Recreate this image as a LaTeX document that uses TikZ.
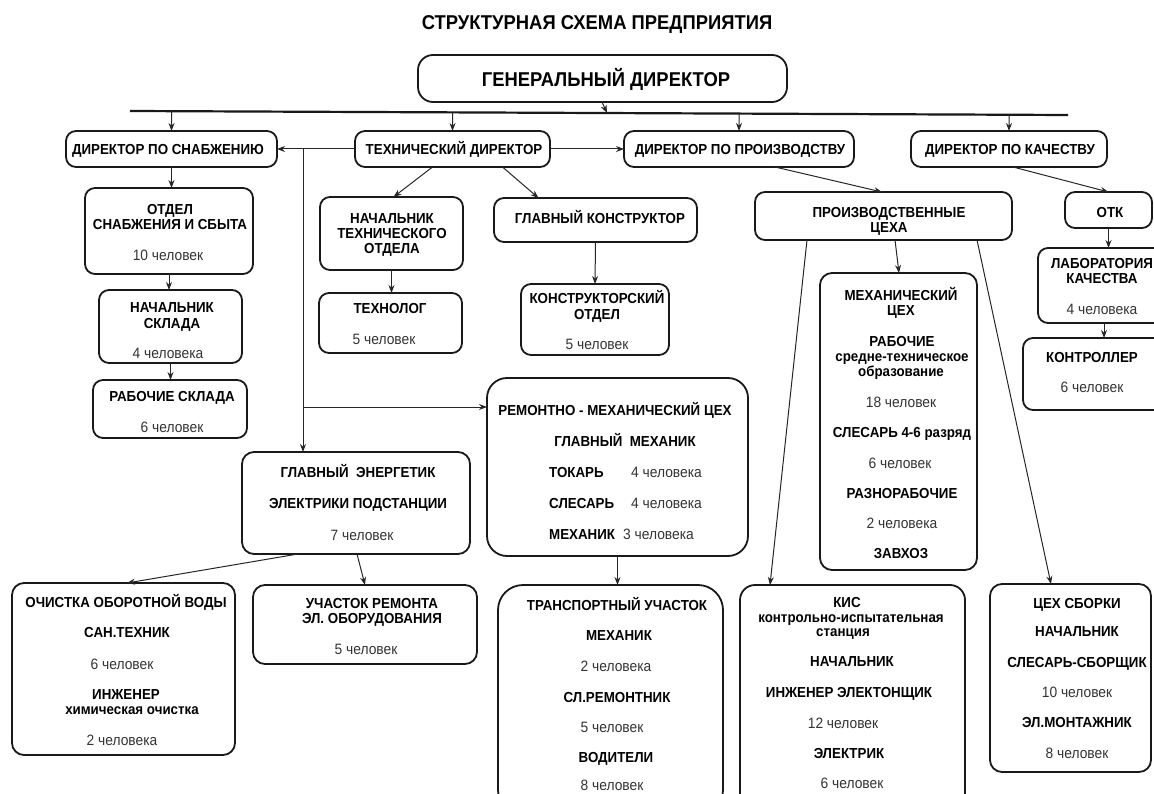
\documentclass[tikz,border=0pt]{standalone}
\usepackage{fontspec}
\setmainfont{Liberation Sans}[FakeStretch=0.92]
\usetikzlibrary{arrows.meta,calc}
\tikzset{
 box/.style={draw=black!90, line width=1.8pt, rounded corners=#1, inner sep=0pt, outer sep=0pt},
 box/.default=10pt,
 bt/.style={font=\bfseries\fontsize{14.5}{15}\selectfont, text height=10.4pt, text depth=0pt, inner sep=0pt, text=black},
 rt/.style={font=\fontsize{15}{15}\selectfont, text height=10.7pt, text depth=0pt, inner sep=0pt, text=black!80},
 big/.style={font=\bfseries\fontsize{20}{22}\selectfont, text height=14.3pt, text depth=0pt, inner sep=0pt, text=black},
 arr/.style={-{Stealth[length=8pt,width=6pt]}, line width=1pt, draw=black!85},
 barline/.style={line width=2.2pt, draw=black!90},
}
\newcommand\mkbox[6][10pt]{\node[box=#1, minimum width={#5-#3}, minimum height={#6-#4}] (#2) at ({(#3+#5)/2},{(#4+#6)/2}) {};}
\begin{document}
\begin{tikzpicture}[x=1pt,y=-1pt]
\useasboundingbox (0,0) rectangle (1154,794);
\clip (0,0) rectangle (1154,794);
% title
\node[big] (title) at (597,22) {СТРУКТУРНАЯ СХЕМА ПРЕДПРИЯТИЯ};
% boxes
\mkbox[15pt]{gd}{418}{55}{787}{102}
\mkbox{snab}{66}{131}{277}{167}
\mkbox{tech}{355}{131}{550}{167}
\mkbox{prod}{624}{131}{854}{167}
\mkbox{qual}{911}{131}{1107}{167}
\mkbox{ceh}{755}{192}{1012}{240}
\mkbox{otk}{1065}{192}{1152}{228}
\mkbox{lab}{1038}{248}{1170}{323}
\mkbox{kontr}{1023}{338}{1170}{410}
\mkbox{otdel}{85}{188}{253}{274}
\mkbox{nachskl}{99}{290}{242}{363}
\mkbox{rabskl}{93}{380}{247}{438}
\mkbox{nto}{320}{197}{463}{270}
\mkbox{tehnolog}{319}{293}{462}{353}
\mkbox{gk}{494}{198}{697}{242}
\mkbox{ko}{521}{284}{669}{355}
\mkbox[20pt]{remont}{487}{378}{748}{556}
\mkbox[12pt]{energ}{242}{452}{470}{554}
\mkbox[12pt]{ochist}{12}{583}{235}{755}
\mkbox[12pt]{uchastok}{253}{585}{477}{664}
\mkbox[25pt]{transp}{498}{585}{723}{815}
\mkbox[15pt]{kis}{740}{585}{965}{815}
\mkbox[12pt]{mehceh}{820}{273}{977}{570}
\mkbox[12pt]{sborka}{990}{584}{1151}{772}
% texts
\node[big] (gd-t) at (606,79) {ГЕНЕРАЛЬНЫЙ ДИРЕКТОР};
\node[bt] (snab-t) at (168,149) {ДИРЕКТОР ПО СНАБЖЕНИЮ};
\node[bt] (tech-t) at (454,149) {ТЕХНИЧЕСКИЙ ДИРЕКТОР};
\node[bt] (prod-t) at (740,149) {ДИРЕКТОР ПО ПРОИЗВОДСТВУ};
\node[bt] (qual-t) at (1010,149) {ДИРЕКТОР ПО КАЧЕСТВУ};
\node[bt] (ceh-t1) at (889,212) {ПРОИЗВОДСТВЕННЫЕ};
\node[bt] (ceh-t2) at (889,227) {ЦЕХА};
\node[bt] (otk-t) at (1110,212) {ОТК};
\node[bt] (lab-t1) at (1102,263) {ЛАБОРАТОРИЯ};
\node[bt] (lab-t2) at (1102,278) {КАЧЕСТВА};
\node[rt] (lab-t3) at (1102,309) {4 человека};
\node[bt] (kontr-t1) at (1092,357) {КОНТРОЛЛЕР};
\node[rt] (kontr-t2) at (1092,387) {6 человек};
\node[bt] (otdel-t1) at (170,209) {ОТДЕЛ};
\node[bt] (otdel-t2) at (170,224) {СНАБЖЕНИЯ И СБЫТА};
\node[rt] (otdel-t3) at (168,255) {10 человек};
\node[bt] (nachskl-t1) at (172,307) {НАЧАЛЬНИК};
\node[bt] (nachskl-t2) at (172,323) {СКЛАДА};
\node[rt] (nachskl-t3) at (168,353) {4 человека};
\node[bt] (rabskl-t1) at (172,396) {РАБОЧИЕ СКЛАДА};
\node[rt] (rabskl-t2) at (172,427) {6 человек};
\node[bt] (nto-t1) at (392,218) {НАЧАЛЬНИК};
\node[bt] (nto-t2) at (392,233) {ТЕХНИЧЕСКОГО};
\node[bt] (nto-t3) at (392,248) {ОТДЕЛА};
\node[bt] (tehnolog-t1) at (390,308) {ТЕХНОЛОГ};
\node[rt] (tehnolog-t2) at (384,339) {5 человек};
\node[bt] (gk-t) at (600,218) {ГЛАВНЫЙ КОНСТРУКТОР};
\node[bt] (ko-t1) at (597,298) {КОНСТРУКТОРСКИЙ};
\node[bt] (ko-t2) at (597,314) {ОТДЕЛ};
\node[rt] (ko-t3) at (597,344) {5 человек};
\node[bt] (remont-t1) at (615,410) {РЕМОНТНО - МЕХАНИЧЕСКИЙ ЦЕХ};
\node[bt] (remont-t2) at (625,441) {ГЛАВНЫЙ\ \ МЕХАНИК};
\node[bt, anchor=west] (remont-t3) at (549,472) {ТОКАРЬ};
\node[rt, anchor=west] (remont-t4) at (631,472) {4 человека};
\node[bt, anchor=west] (remont-t5) at (549,503) {СЛЕСАРЬ};
\node[rt, anchor=west] (remont-t6) at (631,503) {4 человека};
\node[bt, anchor=west] (remont-t7) at (549,534) {МЕХАНИК};
\node[rt, anchor=west] (remont-t8) at (623,534) {3 человека};
\node[bt] (energ-t1) at (358,472) {ГЛАВНЫЙ\ \ ЭНЕРГЕТИК};
\node[bt] (energ-t2) at (358,503) {ЭЛЕКТРИКИ ПОДСТАНЦИИ};
\node[rt] (energ-t3) at (362,535) {7 человек};
\node[bt] (ochist-t1) at (126,602) {ОЧИСТКА ОБОРОТНОЙ ВОДЫ};
\node[bt] (ochist-t2) at (127,632) {САН.ТЕХНИК};
\node[rt] (ochist-t3) at (122,664) {6 человек};
\node[bt] (ochist-t4) at (126,694) {ИНЖЕНЕР};
\node[bt] (ochist-t5) at (132,709) {химическая очистка};
\node[rt] (ochist-t6) at (122,740) {2 человека};
\node[bt] (uch-t1) at (372,603) {УЧАСТОК РЕМОНТА};
\node[bt] (uch-t2) at (372,618) {ЭЛ. ОБОРУДОВАНИЯ};
\node[rt] (uch-t3) at (366,649) {5 человек};
\node[bt] (tr-t1) at (617,605) {ТРАНСПОРТНЫЙ УЧАСТОК};
\node[bt] (tr-t2) at (619,635) {МЕХАНИК};
\node[rt] (tr-t3) at (616,666) {2 человека};
\node[bt] (tr-t4) at (617,697) {СЛ.РЕМОНТНИК};
\node[rt] (tr-t5) at (612,727) {5 человек};
\node[bt] (tr-t6) at (616,757) {ВОДИТЕЛИ};
\node[rt] (tr-t7) at (612,785) {8 человек};
\node[bt] (kis-t1) at (847,602) {КИС};
\node[bt] (kis-t2) at (851,617) {контрольно-испытательная};
\node[bt] (kis-t3) at (843,631) {станция};
\node[bt] (kis-t4) at (852,661) {НАЧАЛЬНИК};
\node[bt] (kis-t5) at (849,692) {ИНЖЕНЕР ЭЛЕКТОНЩИК};
\node[rt] (kis-t6) at (843,723) {12 человек};
\node[bt] (kis-t7) at (849,753) {ЭЛЕКТРИК};
\node[rt] (kis-t8) at (852,783) {6 человек};
\node[bt] (meh-t1) at (901,295) {МЕХАНИЧЕСКИЙ};
\node[bt] (meh-t2) at (901,310) {ЦЕХ};
\node[bt] (meh-t3) at (902,341) {РАБОЧИЕ};
\node[bt] (meh-t4) at (902,356) {средне-техническое};
\node[bt] (meh-t5) at (901,371) {образование};
\node[rt] (meh-t6) at (901,402) {18 человек};
\node[bt] (meh-t7) at (902,432) {СЛЕСАРЬ 4-6 разряд};
\node[rt] (meh-t8) at (900,463) {6 человек};
\node[bt] (meh-t9) at (902,493) {РАЗНОРАБОЧИЕ};
\node[rt] (meh-t10) at (902,523) {2 человека};
\node[bt] (meh-t11) at (901,553) {ЗАВХОЗ};
\node[bt] (sb-t1) at (1077,603) {ЦЕХ СБОРКИ};
\node[bt] (sb-t2) at (1077,631) {НАЧАЛЬНИК};
\node[bt] (sb-t3) at (1077,662) {СЛЕСАРЬ-СБОРЩИК};
\node[rt] (sb-t4) at (1077,692) {10 человек};
\node[bt] (sb-t5) at (1077,722) {ЭЛ.МОНТАЖНИК};
\node[rt] (sb-t6) at (1077,753) {8 человек};
% bar and connectors
\coordinate (barL) at (130,111);
\coordinate (barR) at (1068,115);
\coordinate (gdbar) at (607,113);
\draw[barline] (barL) -- (barR);
\draw[arr] ([xshift=-0.5pt]gd.south) -- (gdbar);
\draw[arr] ($(barL)!(snab.north)!(barR)$) -- (snab.north);
\draw[arr] ($(barL)!(tech.north)!(barR)$) -- (tech.north);
\draw[arr] ($(barL)!(prod.north)!(barR)$) -- (prod.north);
\draw[arr] ($(barL)!(qual.north)!(barR)$) -- (qual.north);
\draw[arr] (tech.west) -- (snab.east);
\draw[arr] (tech.east) -- (prod.west);
\coordinate (j1) at (303,149);
\coordinate (j2) at (303,407);
\draw[arr] (j1) -- (j1 |- energ.north);
\draw[arr] (j2) -- (j2 -| remont.west);
\draw[arr] (snab.south) -- (snab.south |- otdel.north);
\draw[arr] (otdel.south) -- (otdel.south |- nachskl.north);
\draw[arr] (nachskl.south) -- (nachskl.south |- rabskl.north);
\draw[arr] ([xshift=-20pt]tech.south) -- ([xshift=2pt]nto.north);
\draw[arr] ([xshift=50pt]tech.south) -- ([xshift=-57pt]gk.north);
\draw[arr] (nto.south) -- (nto.south |- tehnolog.north);
\draw[arr] (gk.south) -- (ko.north);
\draw[arr] ([xshift=36pt]prod.south) -- ([xshift=-1.5pt]ceh.north);
\draw[arr] ([xshift=4pt]qual.south) -- (otk.north);
\draw[arr] (otk.south) -- (otk.south |- lab.north);
\draw[arr] (lab.south) -- (lab.south |- kontr.north);
\draw[arr] ([xshift=11.5pt]ceh.south) -- ([xshift=0.5pt]mehceh.north);
\draw[arr] ([xshift=-76.5pt]ceh.south) -- ([xshift=-82.5pt]kis.north);
\draw[arr] ([xshift=93.5pt]ceh.south) -- ([xshift=-19.5pt]sborka.north);
\draw[arr] ([xshift=-58pt]energ.south) -- ([xshift=3.5pt]ochist.north);
\draw[arr] ([xshift=1pt]energ.south) -- (uchastok.north);
\draw[arr] (remont.south) -- (remont.south |- transp.north);
\end{tikzpicture}
\end{document}
